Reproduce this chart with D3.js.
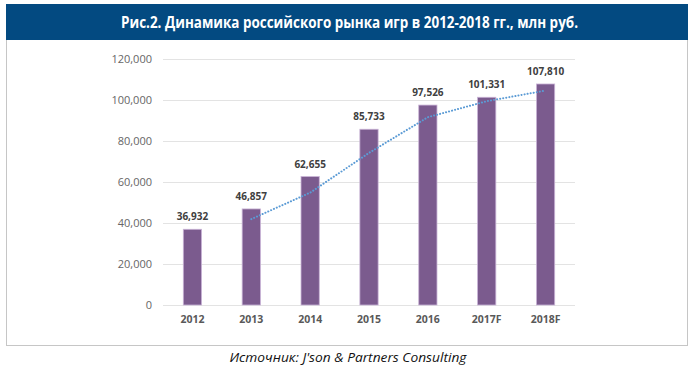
<!DOCTYPE html>
<html>
<head>
<meta charset="utf-8">
<script src="https://cdn.jsdelivr.net/npm/d3@7"></script>
<style>
  body { margin: 0; background: #fff; }
  svg text { font-family: "Open Sans", "Noto Sans", sans-serif; }
</style>
</head>
<body>
<div id="chart"></div>
<script>
// values
const years = ["2012", "2013", "2014", "2015", "2016", "2017F", "2018F"];
const values = [36932, 46857, 62655, 85733, 97526, 101331, 107810];
// trend line (2-period moving average), starts at 2013
const trendYears = ["2013", "2014", "2015", "2016", "2017F", "2018F"];
const trendValues = [41900, 54800, 74200, 91600, 99400, 104600];
const yTicks = [0, 20000, 40000, 60000, 80000, 100000, 120000];

const title = "Рис.2. Динамика российского рынка игр в 2012-2018 гг., млн руб.";
const source = "Источник: J'son & Partners Consulting";

const width = 700,
  height = 370,
  margin = { top: 59, bottom: 65, left: 163, right: 125 };

const svg = d3.select("#chart")
  .append("svg")
  .attr("width", width)
  .attr("height", height);

// frame + header
svg.append("rect")
  .attr("x", 6.5).attr("y", 4.5)
  .attr("width", 681).attr("height", 341)
  .attr("fill", "#fff")
  .attr("stroke", "#c6c6c6");

svg.append("rect")
  .attr("x", 6).attr("y", 4)
  .attr("width", 682).attr("height", 36)
  .attr("fill", "#034a81");

svg.append("text")
  .attr("x", 349.5).attr("y", 28)
  .attr("text-anchor", "middle")
  .attr("fill", "#fff")
  .attr("font-size", 16)
  .attr("font-weight", "bold")
  .attr("textLength", 457)
  .attr("lengthAdjust", "spacingAndGlyphs")
  .text(title);

const xScale = d3.scaleBand()
  .domain(years)
  .range([margin.left, width - margin.right])
  .paddingInner(0.69)
  .paddingOuter(0.345);

const yScale = d3.scaleLinear()
  .domain([0, 120000])
  .range([height - margin.bottom, margin.top]);

// grid
svg.append("g")
  .selectAll("line")
  .data(yTicks)
  .join("line")
  .attr("x1", margin.left)
  .attr("x2", width - margin.right)
  .attr("y1", d => Math.round(yScale(d)) + 0.5)
  .attr("y2", d => Math.round(yScale(d)) + 0.5)
  .attr("stroke", "#e3e3e3")
  .attr("stroke-width", 1.2);

// y axis labels
const yAxis = d3.axisLeft(yScale)
  .tickValues(yTicks)
  .tickSize(0)
  .tickPadding(11)
  .tickFormat(d3.format(","));

svg.append("g")
  .attr("class", "axis y-axis")
  .attr("transform", `translate(${margin.left},0)`)
  .call(yAxis)
  .call(g => g.select(".domain").remove())
  .selectAll("text")
  .attr("font-size", 11)
  .attr("fill", "#666")
  .attr("font-family", "Open Sans, sans-serif");

// x axis labels
const xAxis = d3.axisBottom(xScale).tickSize(0).tickPadding(11);

svg.append("g")
  .attr("class", "axis x-axis")
  .attr("transform", `translate(0,${height - margin.bottom})`)
  .call(xAxis)
  .call(g => g.select(".domain").remove())
  .selectAll("text")
  .attr("font-size", 10.5)
  .attr("font-weight", "bold")
  .attr("fill", "#595959")
  .attr("font-family", "Open Sans, sans-serif");

// bars
svg.append("g")
  .selectAll("rect")
  .data(years)
  .join("rect")
  .attr("x", d => xScale(d))
  .attr("width", xScale.bandwidth())
  .attr("y", (d, i) => yScale(values[i]))
  .attr("height", (d, i) => yScale(0) - yScale(values[i]))
  .attr("fill", "#7b5b8e")
  .attr("stroke", "#c9b3d6")
  .attr("stroke-width", 0.8);

// value labels
svg.append("g")
  .selectAll("text")
  .data(years)
  .join("text")
  .attr("x", d => xScale(d) + xScale.bandwidth() / 2)
  .attr("y", (d, i) => yScale(values[i]) - 9)
  .attr("text-anchor", "middle")
  .attr("font-size", 10)
  .attr("font-weight", "bold")
  .attr("fill", "#404040")
  .text((d, i) => d3.format(",")(values[i]));

// trend line
const line = d3.line()
  .x((d, i) => xScale(trendYears[i]) + xScale.bandwidth() / 2)
  .y(d => yScale(d));

svg.append("path")
  .datum(trendValues)
  .attr("d", line)
  .attr("fill", "none")
  .attr("stroke", "#5b9bd5")
  .attr("stroke-width", 2)
  .attr("stroke-dasharray", "0.1 3")
  .attr("stroke-linecap", "round");

// source
svg.append("text")
  .attr("x", 348).attr("y", 362)
  .attr("text-anchor", "middle")
  .attr("font-size", 12)
  .attr("font-style", "italic")
  .attr("fill", "#111")
  .attr("textLength", 237)
  .attr("lengthAdjust", "spacingAndGlyphs")
  .text(source);
</script>
</body>
</html>
